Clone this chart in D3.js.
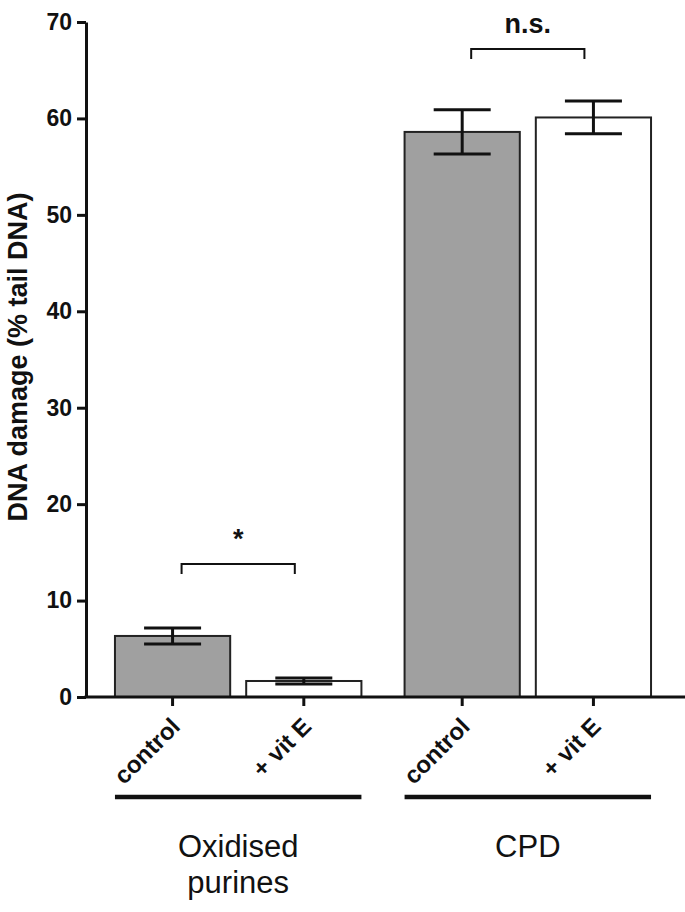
<!DOCTYPE html>
<html>
<head>
<meta charset="utf-8">
<script src="https://cdn.jsdelivr.net/npm/d3@7"></script>
<style>
  body { margin: 0; background: #fff; }
  svg { display: block; font-family: "Liberation Sans", Arial, sans-serif; }
</style>
</head>
<body>
<svg id="chart" width="685" height="912"></svg>
<script>
// data
const groups = ["Oxidised purines", "CPD"];
const conditions = ["control", "+ vit E"];
const means = [[6.33, 1.66], [58.6, 60.1]];
const errors = [[0.83, 0.31], [2.3, 1.7]];
const yTicks = [0, 10, 20, 30, 40, 50, 60, 70];
const sigLabels = ["*", "n.s."];
const sigLevels = [13.8, 67.2];

const svg = d3.select("#chart");
const axisX = 86, baseY = 697;

const y = d3.scaleLinear().domain([0, 70]).range([baseY, 22]);
const x0 = d3.scaleBand().domain(groups).range([86, 680])
    .paddingInner(0.149).paddingOuter(0.1);
const x1 = d3.scaleBand().domain(conditions).range([0, x0.bandwidth()])
    .paddingInner(0.122);
const fill = d3.scaleOrdinal().domain(conditions).range(["#a0a0a0", "#ffffff"]);

const rows = [];
groups.forEach((g, i) => conditions.forEach((c, j) => {
    rows.push({ group: g, cond: c, mean: means[i][j], err: errors[i][j] });
}));
const cx = d => x0(d.group) + x1(d.cond) + x1.bandwidth() / 2;

// bars
svg.append("g").selectAll("rect")
    .data(rows)
    .join("rect")
    .attr("x", d => x0(d.group) + x1(d.cond))
    .attr("y", d => y(d.mean))
    .attr("width", x1.bandwidth())
    .attr("height", d => y(0) - y(d.mean))
    .attr("fill", d => fill(d.cond))
    .attr("stroke", "#222")
    .attr("stroke-width", 2);

// error bars
const eb = svg.append("g").attr("stroke", "#111").attr("stroke-width", 3);
rows.forEach(d => {
    const c = cx(d);
    eb.append("line").attr("x1", c).attr("x2", c)
        .attr("y1", y(d.mean + d.err)).attr("y2", y(d.mean - d.err));
    [d.mean + d.err, d.mean - d.err].forEach(v => {
        eb.append("line").attr("x1", c - 28.5).attr("x2", c + 28.5)
            .attr("y1", y(v)).attr("y2", y(v));
    });
});

// y axis
const yAxis = svg.append("g")
    .attr("transform", `translate(${axisX},0)`)
    .call(d3.axisLeft(y).tickValues(yTicks).tickSize(9).tickSizeOuter(0).tickPadding(5));
yAxis.select(".domain").attr("stroke", "#111").attr("stroke-width", 3);
yAxis.selectAll(".tick line").attr("stroke", "#111").attr("stroke-width", 3);
yAxis.selectAll(".tick text")
    .attr("fill", "#111")
    .style("font-size", "23px")
    .style("font-weight", "bold");

// x axis line
svg.append("line")
    .attr("x1", axisX - 1.5).attr("x2", 685)
    .attr("y1", baseY).attr("y2", baseY)
    .attr("stroke", "#111").attr("stroke-width", 3);

// x ticks + rotated labels per group
groups.forEach(g => {
    const ax = svg.append("g")
        .attr("transform", `translate(${x0(g)},${baseY})`)
        .call(d3.axisBottom(x1).tickSize(9).tickSizeOuter(0));
    ax.select(".domain").remove();
    ax.selectAll(".tick line").attr("stroke", "#111").attr("stroke-width", 3);
    ax.selectAll(".tick text")
        .attr("x", 0).attr("y", 0).attr("dy", 0)
        .attr("transform", "translate(9,31) rotate(-45)")
        .attr("fill", "#111")
        .style("text-anchor", "end")
        .style("font-size", "24px")
        .style("font-weight", "bold");
});

// group underlines and names
const grp = svg.append("g");
groups.forEach(g => {
    grp.append("line")
        .attr("x1", x0(g)).attr("x2", x0(g) + x0.bandwidth())
        .attr("y1", 797).attr("y2", 797)
        .attr("stroke", "#111").attr("stroke-width", 4.5);
    const words = g === "Oxidised purines" ? ["Oxidised", "purines"] : [g];
    const t = grp.append("text")
        .attr("x", x0(g) + x0.bandwidth() / 2)
        .attr("y", 857)
        .attr("text-anchor", "middle")
        .attr("fill", "#111")
        .style("font-size", "31px");
    words.forEach((w, k) => {
        t.append("tspan")
            .attr("x", x0(g) + x0.bandwidth() / 2)
            .attr("dy", k === 0 ? 0 : 36)
            .text(w);
    });
});

// significance brackets
const sig = svg.append("g");
groups.forEach((g, i) => {
    const a = x0(g) + x1(conditions[0]) + x1.bandwidth() / 2 + 9;
    const b = x0(g) + x1(conditions[1]) + x1.bandwidth() / 2 - 9;
    const yy = y(sigLevels[i]);
    sig.append("path")
        .attr("d", `M${a},${yy + 10}V${yy}H${b}V${yy + 10}`)
        .attr("fill", "none")
        .attr("stroke", "#111")
        .attr("stroke-width", 2);
    sig.append("text")
        .attr("x", (a + b) / 2)
        .attr("y", yy - 16)
        .attr("text-anchor", "middle")
        .attr("fill", "#111")
        .style("font-size", "27px")
        .style("font-weight", "bold")
        .text(sigLabels[i]);
});

// y title
svg.append("text")
    .attr("transform", "translate(27,357) rotate(-90)")
    .attr("text-anchor", "middle")
    .attr("fill", "#111")
    .style("font-size", "27px")
    .style("font-weight", "bold")
    .text("DNA damage (% tail DNA)");
</script>
</body>
</html>
